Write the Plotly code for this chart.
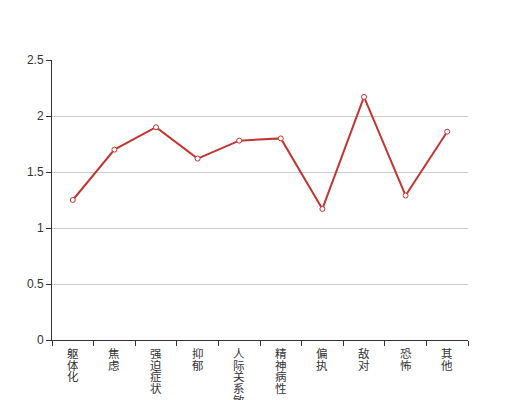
import plotly.graph_objects as go

categories = ["躯体化", "焦虑", "强迫症状", "抑郁", "人际关系敏感", "精神病性", "偏执", "敌对", "恐怖", "其他"]
values = [1.25, 1.70, 1.90, 1.62, 1.78, 1.80, 1.17, 2.17, 1.29, 1.86]
y_ticks = [0, 0.5, 1, 1.5, 2, 2.5]
y_tick_labels = ["0", "0.5", "1", "1.5", "2", "2.5"]

fig = go.Figure()
fig.add_trace(go.Scatter(
    x=categories, y=values, mode="lines+markers",
    line=dict(color="#c23531", width=2),
    marker=dict(symbol="circle", size=5, color="white",
                line=dict(color="#c23531", width=1)),
    hoverinfo="skip",
))

# vertical (stacked) category labels, one character per line
line_step = 11.7
for cat in categories:
    for k, ch in enumerate(cat):
        fig.add_annotation(
            x=cat, xref="x", y=0, yref="paper",
            text=ch, showarrow=False,
            xanchor="center", yanchor="top",
            yshift=-(3 + k * line_step),
            font=dict(size=11.5, color="#333",
                      family="Noto Sans CJK SC, sans-serif"),
        )

fig.update_layout(
    width=520, height=400,
    margin=dict(l=44, r=60, t=52, b=68, autoexpand=False),
    paper_bgcolor="white", plot_bgcolor="white",
    showlegend=False,
    font=dict(family="Liberation Sans, Noto Sans CJK SC, sans-serif", size=12, color="#333"),
)
fig.update_xaxes(
    type="category", automargin=False, range=[-0.5, len(categories) - 0.5],
    showline=True, linecolor="#333", linewidth=1,
    ticks="outside", ticklen=5, tickcolor="#333", tickson="boundaries",
    showgrid=False, showticklabels=False,
)
fig.update_yaxes(
    range=[0, 2.5], tickvals=y_ticks, ticktext=y_tick_labels, automargin=False,
    showline=True, linecolor="#333", linewidth=1,
    ticks="outside", ticklen=5, tickcolor="#333",
    showgrid=True, gridcolor="#ccc", gridwidth=1,
    zeroline=False,
    tickfont=dict(size=12, color="#333"),
)

fig.write_html("out.html")
